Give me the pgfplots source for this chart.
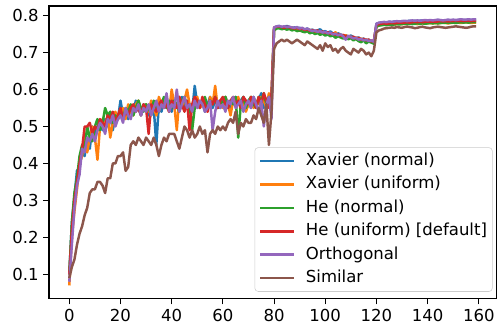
\documentclass[border=0pt]{standalone}
\usepackage{fontspec}
\setmainfont{DejaVu Sans}
\usepackage{pgfplots}
\pgfplotsset{compat=1.18}
\definecolor{c0}{HTML}{1F77B4}
\definecolor{c1}{HTML}{FF7F0E}
\definecolor{c2}{HTML}{2CA02C}
\definecolor{c3}{HTML}{D62728}
\definecolor{c4}{HTML}{9467BD}
\definecolor{c5}{HTML}{8C564B}
\begin{document}
\begin{tikzpicture}
\begin{axis}[name=ax, scale only axis, width=336pt, height=219.75pt,
  xmin=-7.95, xmax=166.95, ymin=0.034, ymax=0.826,
  xtick={0,20,40,60,80,100,120,140,160},
  ytick={0.1,0.2,0.3,0.4,0.5,0.6,0.7,0.8},
  yticklabel style={/pgf/number format/.cd, fixed, fixed zerofill, precision=1},
  /pgf/number format/assume math mode=true,
  tick align=outside, xtick pos=left, ytick pos=left,
  major tick length=4.3pt,
  tick style={black, line width=0.8pt},
  axis line style={line width=1pt},
  ticklabel style={font=\fontsize{12.4}{14}\selectfont},
  every axis plot/.append style={line width=1.86pt, line join=round},
  legend cell align=left,
  legend style={at={(1,0)}, anchor=south east, xshift=-3pt, yshift=5.25pt,
    draw=black!20, rounded corners=2.5pt, fill=white, fill opacity=0.8, text opacity=1,
    font=\fontsize{12.4}{14}\selectfont, row sep=3.1pt, inner xsep=3pt, inner ysep=2.75pt,
    nodes={inner sep=1pt, text height=9.5pt, text depth=3pt},
    /tikz/every odd column/.append style={column sep=7pt}},
  legend image code/.code={\draw[#1] (0pt,0pt) -- (25.5pt,0pt);},
]
% Xavier (normal)
\addplot[c0] table[x expr=\coordindex, y index=0, header=false, row sep=\\]{
0.10\\0.24\\0.31\\0.38\\0.39\\0.43\\0.42\\0.47\\0.44\\0.50\\
0.48\\0.50\\0.51\\0.49\\0.52\\0.50\\0.53\\0.49\\0.53\\0.52\\
0.57\\0.53\\0.54\\0.52\\0.55\\0.54\\0.57\\0.55\\0.53\\0.56\\
0.55\\0.53\\0.56\\0.55\\0.45\\0.56\\0.54\\0.57\\0.55\\0.56\\
0.54\\0.57\\0.55\\0.56\\0.58\\0.55\\0.57\\0.56\\0.54\\0.61\\
0.56\\0.55\\0.57\\0.54\\0.56\\0.58\\0.55\\0.57\\0.56\\0.55\\
0.57\\0.58\\0.56\\0.55\\0.57\\0.58\\0.56\\0.57\\0.58\\0.56\\
0.57\\0.55\\0.58\\0.56\\0.57\\0.59\\0.55\\0.57\\0.58\\0.56\\
0.765\\0.770\\0.772\\0.768\\0.770\\0.772\\0.769\\0.767\\0.768\\0.765\\
0.767\\0.764\\0.762\\0.765\\0.760\\0.762\\0.758\\0.760\\0.763\\0.756\\
0.758\\0.754\\0.757\\0.752\\0.748\\0.752\\0.749\\0.745\\0.747\\0.743\\
0.746\\0.742\\0.738\\0.741\\0.735\\0.738\\0.732\\0.735\\0.730\\0.728\\
0.778\\0.780\\0.781\\0.782\\0.781\\0.783\\0.782\\0.784\\0.783\\0.784\\
0.785\\0.784\\0.785\\0.786\\0.785\\0.786\\0.785\\0.786\\0.787\\0.786\\
0.786\\0.787\\0.786\\0.787\\0.788\\0.787\\0.786\\0.787\\0.788\\0.787\\
0.788\\0.787\\0.788\\0.789\\0.788\\0.788\\0.789\\0.788\\0.789\\0.789\\
};
\addlegendentry{Xavier (normal)}
% Xavier (uniform)
\addplot[c1] table[x expr=\coordindex, y index=0, header=false, row sep=\\]{
0.07\\0.20\\0.27\\0.33\\0.40\\0.42\\0.48\\0.43\\0.47\\0.50\\
0.47\\0.41\\0.50\\0.52\\0.50\\0.53\\0.47\\0.51\\0.54\\0.52\\
0.53\\0.55\\0.52\\0.56\\0.54\\0.53\\0.56\\0.57\\0.54\\0.55\\
0.56\\0.54\\0.57\\0.55\\0.53\\0.58\\0.56\\0.55\\0.57\\0.54\\
0.60\\0.56\\0.49\\0.58\\0.55\\0.57\\0.60\\0.56\\0.54\\0.57\\
0.58\\0.55\\0.56\\0.57\\0.54\\0.58\\0.56\\0.61\\0.55\\0.57\\
0.55\\0.58\\0.56\\0.53\\0.57\\0.56\\0.58\\0.55\\0.57\\0.54\\
0.56\\0.58\\0.55\\0.57\\0.56\\0.58\\0.57\\0.55\\0.59\\0.56\\
0.762\\0.768\\0.770\\0.766\\0.769\\0.767\\0.765\\0.768\\0.763\\0.766\\
0.762\\0.765\\0.760\\0.758\\0.762\\0.755\\0.759\\0.757\\0.750\\0.755\\
0.753\\0.748\\0.752\\0.749\\0.755\\0.745\\0.748\\0.744\\0.747\\0.740\\
0.743\\0.738\\0.741\\0.735\\0.738\\0.733\\0.736\\0.730\\0.733\\0.729\\
0.772\\0.774\\0.775\\0.776\\0.775\\0.776\\0.777\\0.776\\0.777\\0.778\\
0.777\\0.778\\0.777\\0.778\\0.779\\0.778\\0.777\\0.778\\0.779\\0.778\\
0.779\\0.780\\0.779\\0.780\\0.779\\0.780\\0.781\\0.780\\0.779\\0.780\\
0.781\\0.780\\0.781\\0.780\\0.781\\0.782\\0.781\\0.780\\0.781\\0.781\\
};
\addlegendentry{Xavier (uniform)}
% He (normal)
\addplot[c2] table[x expr=\coordindex, y index=0, header=false, row sep=\\]{
0.10\\0.24\\0.32\\0.36\\0.42\\0.45\\0.44\\0.50\\0.47\\0.46\\
0.50\\0.52\\0.49\\0.51\\0.55\\0.53\\0.54\\0.51\\0.53\\0.52\\
0.54\\0.52\\0.55\\0.54\\0.56\\0.53\\0.55\\0.57\\0.55\\0.54\\
0.56\\0.55\\0.53\\0.57\\0.55\\0.54\\0.56\\0.58\\0.55\\0.57\\
0.55\\0.57\\0.56\\0.54\\0.57\\0.58\\0.55\\0.56\\0.49\\0.55\\
0.57\\0.56\\0.56\\0.58\\0.55\\0.57\\0.56\\0.58\\0.55\\0.57\\
0.56\\0.58\\0.55\\0.57\\0.56\\0.58\\0.47\\0.56\\0.58\\0.55\\
0.57\\0.58\\0.56\\0.55\\0.58\\0.57\\0.59\\0.56\\0.58\\0.57\\
0.760\\0.765\\0.766\\0.763\\0.765\\0.762\\0.764\\0.760\\0.762\\0.758\\
0.760\\0.757\\0.755\\0.758\\0.752\\0.755\\0.750\\0.753\\0.748\\0.751\\
0.746\\0.749\\0.744\\0.747\\0.740\\0.744\\0.741\\0.738\\0.742\\0.736\\
0.739\\0.733\\0.737\\0.731\\0.728\\0.733\\0.725\\0.730\\0.727\\0.724\\
0.770\\0.773\\0.774\\0.775\\0.774\\0.776\\0.775\\0.776\\0.777\\0.776\\
0.777\\0.778\\0.777\\0.778\\0.777\\0.778\\0.779\\0.778\\0.779\\0.778\\
0.779\\0.780\\0.779\\0.780\\0.779\\0.780\\0.780\\0.781\\0.780\\0.781\\
0.781\\0.780\\0.781\\0.782\\0.781\\0.782\\0.781\\0.782\\0.782\\0.782\\
};
\addlegendentry{He (normal)}
% He (uniform) [default]
\addplot[c3] table[x expr=\coordindex, y index=0, header=false, row sep=\\]{
0.10\\0.22\\0.30\\0.35\\0.40\\0.44\\0.50\\0.50\\0.51\\0.48\\
0.50\\0.49\\0.52\\0.51\\0.50\\0.53\\0.52\\0.54\\0.51\\0.53\\
0.55\\0.52\\0.54\\0.53\\0.55\\0.56\\0.54\\0.55\\0.53\\0.56\\
0.55\\0.48\\0.56\\0.55\\0.54\\0.56\\0.57\\0.55\\0.56\\0.54\\
0.57\\0.56\\0.55\\0.58\\0.56\\0.54\\0.57\\0.49\\0.56\\0.58\\
0.57\\0.55\\0.58\\0.56\\0.54\\0.57\\0.56\\0.58\\0.55\\0.57\\
0.58\\0.56\\0.55\\0.57\\0.58\\0.56\\0.57\\0.55\\0.58\\0.57\\
0.56\\0.58\\0.57\\0.55\\0.58\\0.56\\0.59\\0.57\\0.55\\0.59\\
0.768\\0.770\\0.771\\0.769\\0.767\\0.770\\0.768\\0.766\\0.765\\0.767\\
0.763\\0.765\\0.761\\0.763\\0.759\\0.761\\0.757\\0.760\\0.755\\0.757\\
0.753\\0.755\\0.750\\0.752\\0.748\\0.750\\0.745\\0.748\\0.743\\0.745\\
0.741\\0.743\\0.738\\0.740\\0.735\\0.737\\0.733\\0.735\\0.730\\0.732\\
0.775\\0.777\\0.778\\0.779\\0.778\\0.779\\0.780\\0.779\\0.780\\0.781\\
0.780\\0.781\\0.782\\0.781\\0.782\\0.783\\0.782\\0.783\\0.782\\0.783\\
0.784\\0.783\\0.784\\0.783\\0.784\\0.785\\0.784\\0.785\\0.784\\0.785\\
0.785\\0.786\\0.785\\0.786\\0.785\\0.786\\0.786\\0.785\\0.786\\0.786\\
};
\addlegendentry{He (uniform) [default]}
% Orthogonal
\addplot[c4] table[x expr=\coordindex, y index=0, header=false, row sep=\\]{
0.08\\0.18\\0.28\\0.34\\0.37\\0.44\\0.43\\0.47\\0.46\\0.48\\
0.46\\0.49\\0.51\\0.50\\0.48\\0.52\\0.51\\0.53\\0.50\\0.52\\
0.53\\0.51\\0.55\\0.53\\0.52\\0.55\\0.54\\0.56\\0.53\\0.55\\
0.54\\0.56\\0.53\\0.55\\0.57\\0.54\\0.56\\0.55\\0.59\\0.54\\
0.56\\0.55\\0.60\\0.54\\0.56\\0.58\\0.55\\0.56\\0.54\\0.57\\
0.55\\0.57\\0.56\\0.54\\0.55\\0.57\\0.49\\0.54\\0.57\\0.55\\
0.56\\0.54\\0.57\\0.56\\0.58\\0.55\\0.56\\0.57\\0.54\\0.56\\
0.57\\0.55\\0.58\\0.56\\0.54\\0.57\\0.50\\0.56\\0.58\\0.52\\
0.768\\0.771\\0.772\\0.770\\0.771\\0.769\\0.770\\0.768\\0.767\\0.769\\
0.765\\0.767\\0.763\\0.765\\0.761\\0.758\\0.760\\0.756\\0.758\\0.754\\
0.756\\0.752\\0.754\\0.749\\0.751\\0.747\\0.749\\0.744\\0.735\\0.745\\
0.742\\0.738\\0.740\\0.735\\0.737\\0.733\\0.735\\0.731\\0.733\\0.729\\
0.778\\0.781\\0.782\\0.783\\0.782\\0.784\\0.783\\0.784\\0.785\\0.784\\
0.785\\0.786\\0.785\\0.786\\0.787\\0.786\\0.787\\0.786\\0.787\\0.788\\
0.787\\0.788\\0.787\\0.788\\0.789\\0.788\\0.787\\0.788\\0.789\\0.788\\
0.789\\0.788\\0.789\\0.790\\0.789\\0.789\\0.790\\0.789\\0.790\\0.790\\
};
\addlegendentry{Orthogonal}
% Similar
\addplot[c5] table[x expr=\coordindex, y index=0, header=false, row sep=\\]{
0.09\\0.12\\0.14\\0.18\\0.21\\0.23\\0.26\\0.28\\0.32\\0.33\\
0.33\\0.35\\0.35\\0.34\\0.32\\0.36\\0.36\\0.40\\0.40\\0.42\\
0.42\\0.43\\0.38\\0.39\\0.45\\0.46\\0.45\\0.47\\0.46\\0.45\\
0.47\\0.46\\0.45\\0.47\\0.45\\0.42\\0.45\\0.47\\0.46\\0.48\\
0.48\\0.48\\0.46\\0.44\\0.47\\0.50\\0.49\\0.47\\0.49\\0.47\\
0.48\\0.50\\0.48\\0.49\\0.43\\0.48\\0.49\\0.48\\0.50\\0.49\\
0.50\\0.49\\0.51\\0.52\\0.51\\0.54\\0.48\\0.51\\0.50\\0.52\\
0.51\\0.51\\0.53\\0.52\\0.55\\0.53\\0.51\\0.56\\0.45\\0.54\\
0.710\\0.725\\0.730\\0.735\\0.730\\0.735\\0.730\\0.725\\0.730\\0.735\\
0.730\\0.725\\0.720\\0.730\\0.725\\0.720\\0.715\\0.710\\0.720\\0.705\\
0.725\\0.715\\0.720\\0.705\\0.710\\0.700\\0.710\\0.715\\0.705\\0.700\\
0.695\\0.710\\0.705\\0.700\\0.710\\0.705\\0.695\\0.700\\0.690\\0.705\\
0.755\\0.760\\0.762\\0.765\\0.766\\0.767\\0.768\\0.767\\0.769\\0.768\\
0.767\\0.769\\0.770\\0.769\\0.768\\0.766\\0.767\\0.769\\0.770\\0.768\\
0.767\\0.766\\0.768\\0.769\\0.770\\0.769\\0.768\\0.767\\0.768\\0.769\\
0.770\\0.771\\0.770\\0.769\\0.768\\0.767\\0.768\\0.770\\0.771\\0.771\\
};
\addlegendentry{Similar}
\end{axis}
\path ([xshift=-36.75pt,yshift=-22.5pt]ax.south west) rectangle ([xshift=1.5pt,yshift=4.5pt]ax.north east);
\end{tikzpicture}
\end{document}
